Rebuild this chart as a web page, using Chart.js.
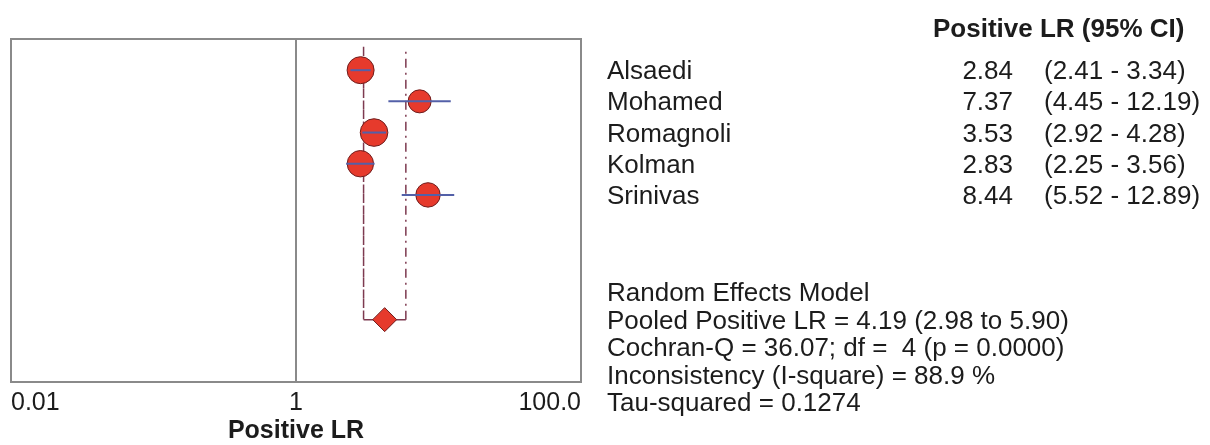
<!DOCTYPE html>
<html>
<head>
<meta charset="utf-8">
<title>Positive LR forest plot</title>
<script src="https://cdn.jsdelivr.net/npm/chart.js@4.4.1/dist/chart.umd.min.js"></script>
<style>
  body { margin: 0; background: #fff; }
  #wrap { position: relative; width: 1210px; height: 445px; overflow: hidden; }
  #side { position: absolute; left: 0; top: 0; font-family: "Liberation Sans", Arial, sans-serif; font-size: 26px; color: #1c1c1c; }
  .t { position: absolute; white-space: pre; line-height: 1; transform: translateY(-50%); }
  .r { transform: translate(-100%, -50%); }
  .b { font-weight: bold; }
</style>
</head>
<body>
<div id="wrap">
  <canvas id="chart" width="1210" height="445"></canvas>
  <div id="side"></div>
</div>
<script>
'use strict';

// ***** DATA *****
let studyNames = ['Alsaedi', 'Mohamed', 'Romagnoli', 'Kolman', 'Srinivas'];
let studyRows = [1, 2, 3, 4, 5];
let studyLR = [2.84, 7.37, 3.53, 2.83, 8.44];
let studyLow = [2.41, 4.45, 2.92, 2.25, 5.52];
let studyHigh = [3.34, 12.19, 4.28, 3.56, 12.89];
// relative weights (%)
let studyWeight = [22, 16, 23, 21, 18];

let pooledRow = 9;
let pooledLR = 4.19;
let pooledLow = 2.98;
let pooledHigh = 5.90;

let xTicks = [0.01, 1, 100];
let xTickLabels = ['0.01', '1', '100.0'];

let statLines = [
  'Random Effects Model',
  'Pooled Positive LR = 4.19 (2.98 to 5.90)',
  'Cochran-Q = 36.07; df =  4 (p = 0.0000)',
  'Inconsistency (I-square) = 88.9 %',
  'Tau-squared = 0.1274'
];

// ***** STYLE *****
const FONT = '"Liberation Sans", Arial, sans-serif';
const RED = '#e63a2c';
const RED_EDGE = '#6e1d1d';
const CI_BLUE = '#5360a8';
const DASH_COL = '#7d3a50';
const FRAME = '#8a8a8a';

// ***** HELPERS *****
function fmt(v) {
  return v.toFixed(2);
}

// frame round the plot area
const framePlugin = {
  id: 'frame',
  afterDatasetsDraw(chart) {
    let a = chart.chartArea;
    let ctx = chart.ctx;
    ctx.save();
    ctx.strokeStyle = FRAME;
    ctx.lineWidth = 2;
    ctx.strokeRect(a.left, a.top, a.right - a.left, a.bottom - a.top);
    ctx.restore();
  }
};

// ***** DATASETS *****
let ciSets = studyNames.map((name, i) => ({
  type: 'line',
  label: name + ' CI',
  data: [{ x: studyLow[i], y: studyRows[i] }, { x: studyHigh[i], y: studyRows[i] }],
  borderColor: CI_BLUE,
  borderWidth: 2,
  pointRadius: 0,
  order: 0
}));

let datasets = [
  ...ciSets,
  {
    type: 'scatter',
    label: 'studies',
    data: studyLR.map((v, i) => ({ x: v, y: studyRows[i] })),
    backgroundColor: RED,
    borderColor: RED_EDGE,
    borderWidth: 1,
    pointRadius: studyWeight.map(w => 2.88 * Math.sqrt(w)),
    order: 1
  },
  {
    type: 'scatter',
    label: 'pooled',
    data: [{ x: pooledLR, y: pooledRow }],
    pointStyle: 'rectRot',
    backgroundColor: RED,
    borderColor: RED_EDGE,
    borderWidth: 1,
    pointRadius: 12,
    order: 1
  },
  {
    type: 'line',
    label: 'pooled CI',
    data: [
      { x: pooledLow, y: 0.25 },
      { x: pooledLow, y: pooledRow },
      { x: pooledHigh, y: pooledRow },
      { x: pooledHigh, y: 0.25 }
    ],
    borderColor: DASH_COL,
    borderWidth: 1.5,
    pointRadius: 0,
    segment: {
      borderDash: ctx => ctx.p0DataIndex === 1 ? [] : [9, 5, 2, 5]
    },
    order: 2
  },
  {
    type: 'line',
    label: 'no effect',
    data: [{ x: 1, y: 0 }, { x: 1, y: 11 }],
    borderColor: FRAME,
    borderWidth: 2,
    pointRadius: 0,
    order: 3
  }
];

// ***** CHART *****
let canvasElem = document.getElementById('chart');
let chart = new Chart(canvasElem, {
  type: 'scatter',
  data: { datasets: datasets },
  plugins: [framePlugin],
  options: {
    responsive: false,
    animation: false,
    layout: { autoPadding: false, padding: { left: 11, top: 39, right: 629, bottom: 0 } },
    plugins: { legend: { display: false }, tooltip: { enabled: false } },
    scales: {
      x: {
        type: 'logarithmic',
        min: 0.01,
        max: 100,
        afterBuildTicks: scale => { scale.ticks = xTicks.map(v => ({ value: v })); },
        afterFit: scale => { scale.height = 63; },
        grid: { display: false, drawTicks: false },
        border: { display: false },
        ticks: {
          align: 'inner',
          padding: 6,
          color: '#1c1c1c',
          font: { family: FONT, size: 25 },
          callback: (v, i) => xTickLabels[i]
        },
        title: {
          display: true,
          text: 'Positive LR',
          color: '#1c1c1c',
          font: { family: FONT, size: 25, weight: 'bold', lineHeight: 1 },
          padding: { top: 0, bottom: 1 }
        }
      },
      y: {
        type: 'linear',
        min: 0,
        max: 11,
        reverse: true,
        display: false
      }
    }
  }
});

// ***** RIGHT-HAND TEXT *****
let side = document.getElementById('side');

function addText(text, x, y, cls) {
  let el = document.createElement('div');
  el.className = 't ' + (cls || '');
  el.textContent = text;
  el.style.left = x + 'px';
  el.style.top = y + 'px';
  side.appendChild(el);
}

let yScale = chart.scales.y;
addText('Positive LR (95% CI)', 933, 28, 'b');
for (let i = 0; i < studyNames.length; i++) {
  let y = yScale.getPixelForValue(studyRows[i]);
  addText(studyNames[i], 607, y);
  addText(fmt(studyLR[i]), 1013, y, 'r');
  addText('(' + fmt(studyLow[i]) + ' - ' + fmt(studyHigh[i]) + ')', 1044, y);
}
// summary block: the pooled line sits on the diamond's row
let pooledY = yScale.getPixelForValue(pooledRow);
statLines.forEach((s, i) => addText(s, 607, pooledY + (i - 1) * 27.5));
</script>
</body>
</html>
